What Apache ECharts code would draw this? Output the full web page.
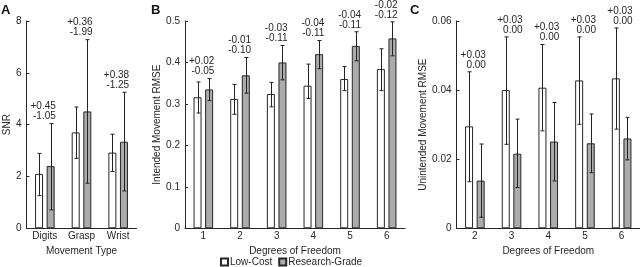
<!DOCTYPE html>
<html><head><meta charset="utf-8">
<script src="https://cdn.jsdelivr.net/npm/echarts@6/dist/echarts.min.js"></script>
<style>html,body{margin:0;padding:0;background:#fff}#c{width:640px;height:267px}</style>
</head><body><div id="c"></div>
<script>
// Panel A: SNR by movement type
var catsA = ['Digits', 'Grasp', 'Wrist'];
var lowA = [2.10, 3.70, 2.92];
var lowALo = [1.26, 2.70, 2.19];
var lowAHi = [2.89, 4.68, 3.63];
var resA = [2.40, 4.51, 3.34];
var resALo = [0.71, 1.74, 1.44];
var resAHi = [4.04, 7.28, 5.25];
var annA = [['+0.45', '-1.05'], ['+0.36', '-1.99'], ['+0.38', '-1.25']];

// Panel B: intended movement RMSE
var catsB = ['1', '2', '3', '4', '5', '6'];
var lowB = [0.316, 0.312, 0.324, 0.344, 0.360, 0.384];
var lowBLo = [0.278, 0.275, 0.293, 0.313, 0.332, 0.332];
var lowBHi = [0.353, 0.347, 0.352, 0.396, 0.390, 0.433];
var resB = [0.335, 0.369, 0.400, 0.420, 0.440, 0.458];
var resBLo = [0.308, 0.326, 0.358, 0.385, 0.404, 0.416];
var resBHi = [0.361, 0.412, 0.441, 0.453, 0.474, 0.498];
var annB = [['+0.02', '-0.05'], ['-0.01', '-0.10'], ['-0.03', '-0.11'], ['-0.04', '-0.11'], ['-0.04', '-0.11'], ['-0.02', '-0.12']];

// Panel C: unintended movement RMSE
var catsC = ['2', '3', '4', '5', '6'];
var lowC = [0.0295, 0.0400, 0.0407, 0.0428, 0.0434];
var lowCLo = [0.0135, 0.0243, 0.0282, 0.0301, 0.0287];
var lowCHi = [0.0453, 0.0554, 0.0532, 0.0554, 0.0580];
var resC = [0.0138, 0.0216, 0.0251, 0.0246, 0.0260];
var resCLo = [0.0032, 0.0118, 0.0137, 0.0161, 0.0198];
var resCHi = [0.0244, 0.0316, 0.0364, 0.0331, 0.0321];
var annC = [['+0.03', '0.00'], ['+0.03', '0.00'], ['+0.03', '0.00'], ['+0.03', '0.00'], ['+0.03', '0.00']];

var seriesNames = ['Low-Cost', 'Research-Grade'];
var yTitles = ['SNR', 'Intended Movement RMSE', 'Unintended Movement RMSE'];
var xTitles = ['Movement Type', 'Degrees of Freedom', 'Degrees of Freedom'];
var panelLetters = ['A', 'B', 'C'];

var FONT = 'Liberation Sans, Arial, sans-serif';
var INK = '#262626';
var GREY = '#ababab';
var BARW = 8, HALF = 5.8;

var panels = [
  {cats: catsA, low: lowA, lowLo: lowALo, lowHi: lowAHi, res: resA, resLo: resALo, resHi: resAHi, ann: annA,
   max: 8, interval: 2, grid: {left: 26.5, top: 21, width: 110, height: 207.3}, nameGap: 8},
  {cats: catsB, low: lowB, lowLo: lowBLo, lowHi: lowBHi, res: resB, resLo: resBLo, resHi: resBHi, ann: annB,
   max: 0.5, interval: 0.1, grid: {left: 185, top: 21, width: 220, height: 207.3}, nameGap: 21},
  {cats: catsC, low: lowC, lowLo: lowCLo, lowHi: lowCHi, res: resC, resLo: resCLo, resHi: resCHi, ann: annC,
   max: 0.06, interval: 0.02, grid: {left: 456.5, top: 21, width: 185, height: 207.3}, nameGap: 24}
];

var grids = [], xAxes = [], yAxes = [], series = [], graphics = [];
panels.forEach(function (p, i) {
  grids.push(p.grid);
  xAxes.push({
    type: 'category', gridIndex: i, data: p.cats, boundaryGap: true,
    axisLine: {lineStyle: {color: INK, width: 1}}, axisTick: {show: false},
    axisLabel: {color: INK, fontFamily: FONT, fontSize: 10, margin: 3},
    name: xTitles[i], nameLocation: 'middle', nameGap: 12,
    nameTextStyle: {color: INK, fontFamily: FONT, fontSize: 10}
  });
  yAxes.push({
    type: 'value', gridIndex: i, min: 0, max: p.max, interval: p.interval,
    axisLine: {show: true, lineStyle: {color: INK, width: 1}},
    axisTick: {show: true, inside: true, length: 3, lineStyle: {color: INK}},
    splitLine: {show: false},
    axisLabel: {color: INK, fontFamily: FONT, fontSize: 10, margin: 5},
    name: yTitles[i], nameLocation: 'middle', nameGap: p.nameGap,
    nameTextStyle: {color: INK, fontFamily: FONT, fontSize: 10}
  });
  series.push({
    name: seriesNames[0], type: 'bar', xAxisIndex: i, yAxisIndex: i, data: p.low,
    barWidth: BARW, barGap: '45%', silent: true,
    itemStyle: {color: '#ffffff', borderColor: INK, borderWidth: 1}
  });
  series.push({
    name: seriesNames[1], type: 'bar', xAxisIndex: i, yAxisIndex: i, data: p.res,
    barWidth: BARW, barGap: '45%', silent: true,
    itemStyle: {color: GREY, borderColor: INK, borderWidth: 1}
  });
  var errData = [];
  p.cats.forEach(function (c, k) {
    errData.push([k, p.lowLo[k], p.lowHi[k], -1]);
    errData.push([k, p.resLo[k], p.resHi[k], 1]);
  });
  series.push({
    type: 'custom', xAxisIndex: i, yAxisIndex: i, data: errData, silent: true, z: 5,
    renderItem: function (params, api) {
      var k = api.value(0);
      var lo = api.coord([k, api.value(1)]);
      var hi = api.coord([k, api.value(2)]);
      var x = Math.round(lo[0] + api.value(3) * HALF) + 0.5;
      var st = {stroke: '#222', lineWidth: 1};
      return {type: 'group', children: [
        {type: 'line', shape: {x1: x, y1: lo[1], x2: x, y2: hi[1]}, style: st},
        {type: 'line', shape: {x1: x - 2, y1: hi[1], x2: x + 2, y2: hi[1]}, style: st},
        {type: 'line', shape: {x1: x - 2, y1: lo[1], x2: x + 2, y2: lo[1]}, style: st}
      ]};
    },
    encode: {x: 0, y: [1, 2]}
  });
  var annData = p.cats.map(function (c, k) { return [k, Math.max(p.lowHi[k], p.resHi[k]), k]; });
  (function (ann) {
    series.push({
      type: 'custom', xAxisIndex: i, yAxisIndex: i, data: annData, silent: true, z: 6,
      renderItem: function (params, api) {
        var k = api.value(0);
        var pt = api.coord([k, api.value(1)]);
        var t = ann[api.value(2)];
        var ts = {fill: INK, font: '10px ' + FONT, textAlign: 'right', textVerticalAlign: 'middle'};
        return {type: 'group', children: [
          {type: 'text', x: pt[0] + 11, y: pt[1] - 17, style: Object.assign({text: t[0]}, ts)},
          {type: 'text', x: pt[0] + 11, y: pt[1] - 7, style: Object.assign({text: t[1]}, ts)}
        ]};
      },
      encode: {x: 0, y: 1}
    });
  })(p.ann);
});

var letterX = [1, 151, 410];
panelLetters.forEach(function (L, i) {
  graphics.push({type: 'text', left: letterX[i], top: 4,
    style: {text: L, font: 'bold 13px ' + FONT, fill: '#111'}});
});

var chart = echarts.init(document.getElementById('c'), null, {renderer: 'canvas'});
chart.setOption({
  animation: false,
  backgroundColor: '#ffffff',
  grid: grids, xAxis: xAxes, yAxis: yAxes, series: series, graphic: graphics,
  legend: {
    data: seriesNames, left: 220, top: 257, padding: 0, itemWidth: 7, itemHeight: 7, itemGap: 6,
    icon: 'rect', selectedMode: false,
    textStyle: {color: INK, fontFamily: FONT, fontSize: 10, padding: [0, 0, 0, -3]}
  }
});
</script></body></html>
